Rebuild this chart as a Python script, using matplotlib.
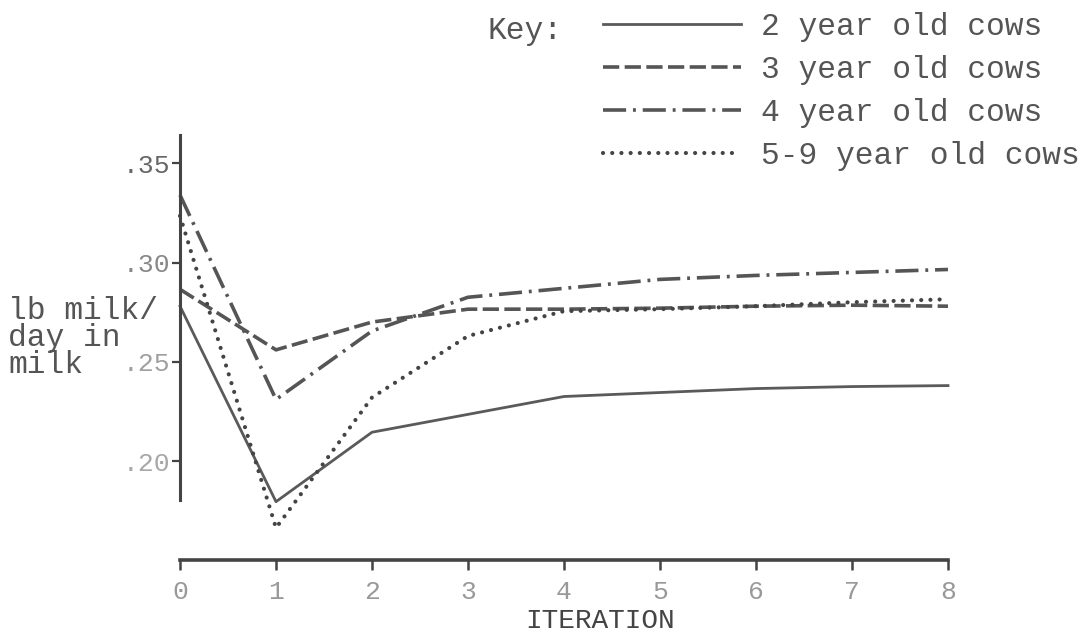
import matplotlib

matplotlib.use('Agg')
import matplotlib.pyplot as plt

iterations = [0, 1, 2, 3, 4, 5, 6, 7, 8]
cows_2yr = [0.278, 0.1795, 0.2145, 0.2235, 0.2325, 0.2345, 0.2365, 0.2375, 0.238]
cows_3yr = [0.2865, 0.256, 0.270, 0.2765, 0.2765, 0.277, 0.278, 0.2785, 0.278]
cows_4yr = [0.334, 0.231, 0.2655, 0.2825, 0.287, 0.2915, 0.2935, 0.295, 0.2965]
cows_5_9yr = [0.3235, 0.1663, 0.232, 0.263, 0.2755, 0.2765, 0.278, 0.280, 0.2815]

labels = ["2 year old cows", "3 year old cows", "4 year old cows", "5-9 year old cows"]
ytick_values = [0.20, 0.25, 0.30, 0.35]
ytick_labels = [".20", ".25", ".30", ".35"]
ytick_colors = ["#a8a8a8", "#a0a0a0", "#888888", "#666666"]

FONT = "Liberation Mono"
INK = "#555555"


def plot_milk_vs_iteration(fig):
    ax = fig.add_axes([180 / 1088, 74 / 634, 768 / 1088, 426.5 / 634])

    ax.plot(iterations, cows_2yr, color="#5a5a5a", lw=2.0, label=labels[0], clip_on=False)
    ax.plot(iterations, cows_3yr, color=INK, lw=2.6, dashes=(4.5, 1.5), label=labels[1], clip_on=False)
    ax.plot(iterations, cows_4yr, color=INK, lw=2.6, dashes=(6.4, 1.9, 0.8, 1.9), label=labels[2], clip_on=False)
    ax.plot(iterations, cows_5_9yr, color="#444444", lw=3, dashes=(0.01, 2.2), dash_capstyle='round',
            label=labels[3], clip_on=False)

    ax.set_xlim(0, 8)
    ax.set_ylim(0.15013, 0.365)

    for side in ['top', 'right']:
        ax.spines[side].set_visible(False)
    ax.spines['left'].set_bounds(0.1804, 0.364)
    ax.spines['left'].set_linewidth(2.2)
    ax.spines['left'].set_color("#444444")
    ax.spines['bottom'].set_bounds(0, 8)
    ax.spines['bottom'].set_linewidth(2.6)
    ax.spines['bottom'].set_color("#444444")

    ax.set_xticks(iterations)
    ax.set_xticklabels([str(i) for i in iterations], fontfamily=FONT, fontsize=19, color="#999999")
    ax.tick_params(axis='x', direction='out', length=7.5, width=1.8, color="#444444", pad=7)

    ax.set_yticks(ytick_values)
    ax.set_yticklabels(ytick_labels, fontfamily=FONT, fontsize=19)
    for lab, col in zip(ax.get_yticklabels(), ytick_colors):
        lab.set_color(col)
    ax.tick_params(axis='y', direction='out', length=6, width=1.6, color="#444444", pad=1)

    fig.text(600 / 1088, 1 - 621 / 634, "ITERATION", fontfamily=FONT, fontsize=20,
             color="#444444", ha='center', va='center')
    fig.text(8 / 1088, 1 - 338 / 634, "lb milk/\nday in\nmilk", fontfamily=FONT, fontsize=22.5,
             color=INK, ha='left', va='center', multialignment='left', linespacing=0.85)

    fig.text(562 / 1088, 1 - 31 / 634, "Key:", fontfamily=FONT, fontsize=22.5,
             color=INK, ha='right', va='center')
    ax.legend(loc='upper left', bbox_to_anchor=(603 / 1088, 1 - 12 / 634), bbox_transform=fig.transFigure,
              frameon=False, handlelength=4.4, handletextpad=0.65, labelspacing=0.42,
              borderpad=0, borderaxespad=0, prop={'family': FONT, 'size': 22.5}, labelcolor=INK)
    return ax


if __name__ == "__main__":
    fig = plt.figure(figsize=(10.88, 6.34), dpi=100)
    plot_milk_vs_iteration(fig)
    fig.savefig('out.png', dpi=100)
